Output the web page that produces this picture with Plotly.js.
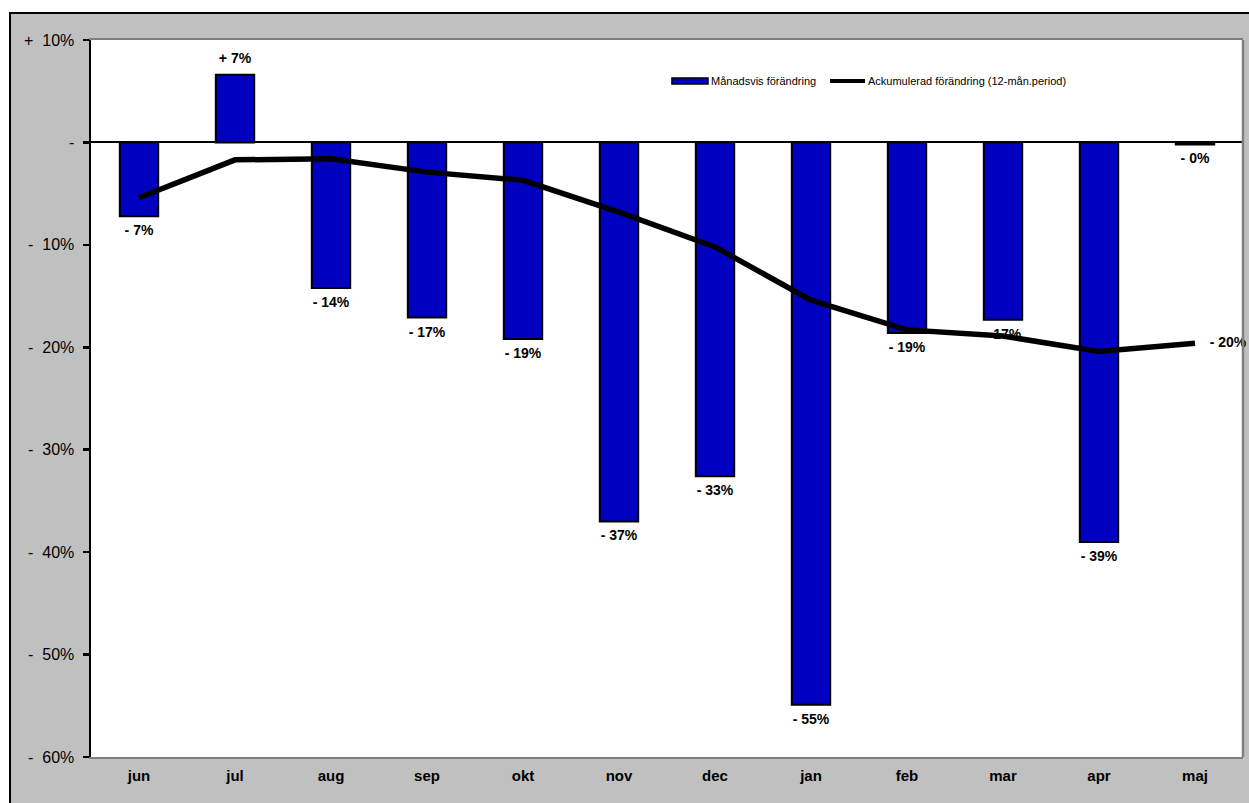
<!DOCTYPE html>
<html>
<head>
<meta charset="utf-8">
<script src="https://cdn.plot.ly/plotly-3.0.1.min.js"></script>
<style>
html,body{margin:0;padding:0;background:#ffffff;overflow:hidden;width:1249px;height:803px;}
#chart{position:absolute;left:9px;top:12px;width:1245px;height:795px;border-left:2px solid #000;border-top:2px solid #000;}
</style>
</head>
<body>
<div id="chart"></div>
<script>
// ---- data ----
const months = ['jun','jul','aug','sep','okt','nov','dec','jan','feb','mar','apr','maj'];
const monthlyChange = [-7.2, 6.6, -14.2, -17.1, -19.2, -37.0, -32.6, -54.9, -18.6, -17.3, -39.0, -0.2];
const accumulatedChange = [-5.4, -1.7, -1.6, -2.9, -3.7, -6.8, -10.2, -15.4, -18.3, -18.9, -20.4, -19.6];
const yTickValues = [10, 0, -10, -20, -30, -40, -50, -60];
const yTickLabels = ['+\u00a0\u00a010%', '-', '-\u00a0\u00a010%', '-\u00a0\u00a020%', '-\u00a0\u00a030%', '-\u00a0\u00a040%', '-\u00a0\u00a050%', '-\u00a0\u00a060%'];
const seriesNames = ['Månadsvis förändring', 'Ackumulerad förändring (12-mån.period)'];

function fmt(v){ return (v > 0 ? '+ ' : '- ') + Math.round(Math.abs(v)) + '%'; }

const FONT = 'Arial, "Liberation Sans", sans-serif';
const boundaries = months.slice(0, -1).map((m, i) => i + 0.5);
const lastIdx = accumulatedChange.length - 1;

const barTrace = {
  type: 'bar', x: months, y: monthlyChange, name: seriesNames[0],
  width: 0.4,
  marker: {color: '#0000c0', line: {color: '#000000', width: 2}},
  showlegend: false, hoverinfo: 'skip'
};
// value labels for bars (drawn beneath the line)
const barLabelTrace = {
  type: 'scatter', mode: 'markers+text', x: months, y: monthlyChange,
  marker: {size: 12, color: 'rgba(0,0,0,0)'},
  text: monthlyChange.map(fmt),
  textposition: monthlyChange.map(v => v > 0 ? 'top center' : 'bottom center'),
  textfont: {family: FONT, size: 14, color: '#000', weight: 'bold'},
  cliponaxis: false, showlegend: false, hoverinfo: 'skip'
};
const lineTrace = {
  type: 'scatter', mode: 'lines', x: months, y: accumulatedChange, name: seriesNames[1],
  line: {color: '#000000', width: 5.5},
  showlegend: false, hoverinfo: 'skip'
};
const lineLabelTrace = {
  type: 'scatter', mode: 'markers+text', x: [months[lastIdx]], y: [accumulatedChange[lastIdx]],
  marker: {size: 22, color: 'rgba(0,0,0,0)'},
  text: [fmt(accumulatedChange[lastIdx])], textposition: 'middle right',
  textfont: {family: FONT, size: 14, color: '#000', weight: 'bold'},
  cliponaxis: false, showlegend: false, hoverinfo: 'skip'
};

const layout = {
  width: 1245, height: 795,
  margin: {l: 80, r: 13, t: 26, b: 52},
  paper_bgcolor: '#c0c0c0', plot_bgcolor: '#ffffff',
  font: {family: FONT, color: '#000'},
  showlegend: false,
  xaxis: {
    type: 'category', range: [-0.5, 11.5],
    showline: true, linecolor: '#808080', linewidth: 2, mirror: true,
    ticks: '', showgrid: false, zeroline: false,
    tickfont: {family: FONT, size: 15, color: '#000', weight: 'bold'},
    ticklabelstandoff: 4
  },
  xaxis2: {
    overlaying: 'x', anchor: 'free', position: 60 / 70, range: [-0.5, 11.5], type: 'linear',
    showline: true, linecolor: '#000', linewidth: 2,
    ticks: 'outside', ticklen: 5, tickwidth: 2, tickcolor: '#000',
    tickmode: 'array', tickvals: boundaries, showticklabels: false,
    showgrid: false, zeroline: false, fixedrange: true
  },
  yaxis: {
    range: [-60, 10], tickmode: 'array', tickvals: yTickValues, ticktext: yTickLabels,
    showline: true, linecolor: '#000', linewidth: 2.5,
    ticks: 'outside', ticklen: 6, tickwidth: 2.5, tickcolor: '#000',
    showgrid: false, zeroline: true, zerolinecolor: '#000', zerolinewidth: 2,
    tickfont: {family: FONT, size: 16, color: '#000'},
    ticklabelstandoff: 5
  },
  shapes: [
    {type: 'line', xref: 'paper', yref: 'paper', x0: 1, x1: 1, y0: 0, y1: 1, line: {color: '#808080', width: 2.5}},
    // legend symbols
    {type: 'rect', xref: 'paper', yref: 'paper', x0: 0.5043, x1: 0.5356, y0: 0.9386, y1: 0.9470,
     fillcolor: '#0000c0', line: {color: '#000', width: 1.5}},
    {type: 'line', xref: 'paper', yref: 'paper', x0: 0.6415, x1: 0.6719, y0: 0.9428, y1: 0.9428,
     line: {color: '#000', width: 4}}
  ],
  annotations: [
    {xref: 'paper', yref: 'paper', x: 0.5365, y: 0.9428, xanchor: 'left', yanchor: 'middle',
     text: seriesNames[0], showarrow: false, font: {family: FONT, size: 11, color: '#000'}},
    {xref: 'paper', yref: 'paper', x: 0.6727, y: 0.9428, xanchor: 'left', yanchor: 'middle',
     text: seriesNames[1], showarrow: false, font: {family: FONT, size: 11, color: '#000'}}
  ]
};

Plotly.newPlot('chart', [barTrace, barLabelTrace, lineTrace, lineLabelTrace], layout, {displayModeBar: false, staticPlot: true});
</script>
</body>
</html>
